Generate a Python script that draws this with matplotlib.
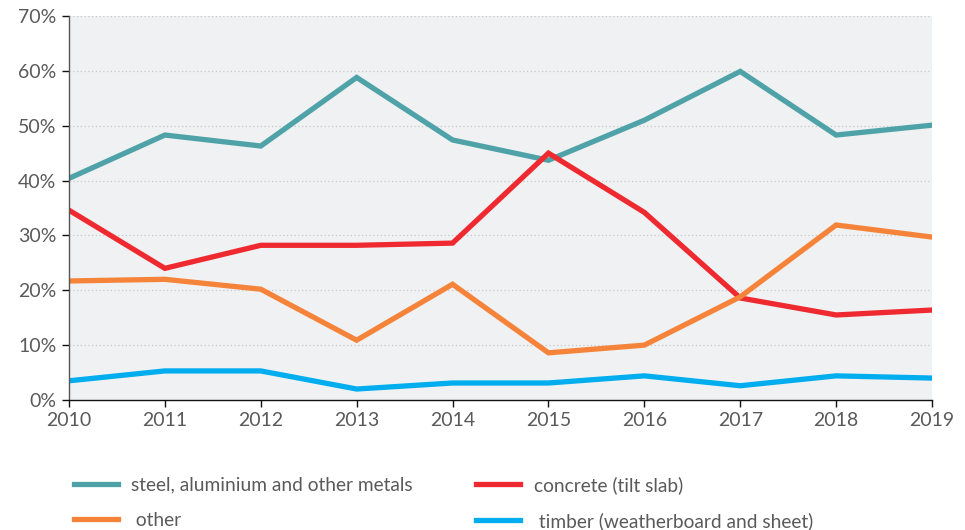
import matplotlib
matplotlib.use("Agg")
import matplotlib.pyplot as plt
from matplotlib.ticker import FuncFormatter

years = [2010, 2011, 2012, 2013, 2014, 2015, 2016, 2017, 2018, 2019]
steel = [40.4, 48.3, 46.3, 58.8, 47.4, 43.7, 51.0, 59.9, 48.3, 50.1]
concrete = [34.6, 24.0, 28.2, 28.2, 28.6, 45.0, 34.2, 18.6, 15.5, 16.4]
other = [21.7, 22.0, 20.2, 10.9, 21.1, 8.6, 10.0, 18.8, 31.9, 29.7]
timber = [3.5, 5.3, 5.3, 2.0, 3.1, 3.1, 4.4, 2.6, 4.4, 4.0]
yticks = [0, 10, 20, 30, 40, 50, 60, 70]

plt.rcParams['font.family'] = ['Lato', 'DejaVu Sans']

fig = plt.figure(figsize=(9.65, 5.30), dpi=100)
ax = fig.add_axes([69/965, 1-400/530, (932-69)/965, (400-16)/530])
ax.set_facecolor('#f0f1f3')

lw = 3.8
l1, = ax.plot(years, steel, color='#4fa3a8', lw=lw, solid_joinstyle='miter', label='steel, aluminium and other metals')
l2, = ax.plot(years, concrete, color='#ee2a30', lw=lw, solid_joinstyle='miter', label='concrete (tilt slab)')
l3, = ax.plot(years, other, color='#f5843a', lw=lw, solid_joinstyle='miter', label=' other')
l4, = ax.plot(years, timber, color='#00aeef', lw=lw, solid_joinstyle='miter', label=' timber (weatherboard and sheet)')

ax.set_xlim(years[0], years[-1])
ax.set_ylim(0, 70)
ax.set_xticks(years)
ax.set_yticks(yticks)
ax.yaxis.set_major_formatter(FuncFormatter(lambda v, p: f"{int(v)}%"))
for y in yticks[1:]:
    ax.axhline(y, color='#c8c8c8', lw=0.9, ls=(0, (1, 2)), zorder=0.5)

for s in ['top', 'right']:
    ax.spines[s].set_visible(False)
ax.spines['left'].set_color('#555555')
ax.spines['bottom'].set_color('#111111')
ax.spines['left'].set_linewidth(1.0)
ax.spines['bottom'].set_linewidth(1.0)
ax.tick_params(axis='both', direction='out', length=5, width=1.0, colors='#111111',
               labelcolor='#5a5a5a', labelsize=14)
ax.tick_params(axis='y', pad=4)
ax.tick_params(axis='x', pad=4)

leg = fig.legend(handles=[l1, l3, l2, l4], ncol=2, loc='upper left',
                 bbox_to_anchor=(68/965, 1-470/530), frameon=False,
                 fontsize=13.8, handlelength=2.3, handletextpad=0.7,
                 columnspacing=3.3, labelspacing=0.95, labelcolor='#5a5a5a',
                 borderaxespad=0, borderpad=0.3)

fig.savefig('out.png', dpi=100)
